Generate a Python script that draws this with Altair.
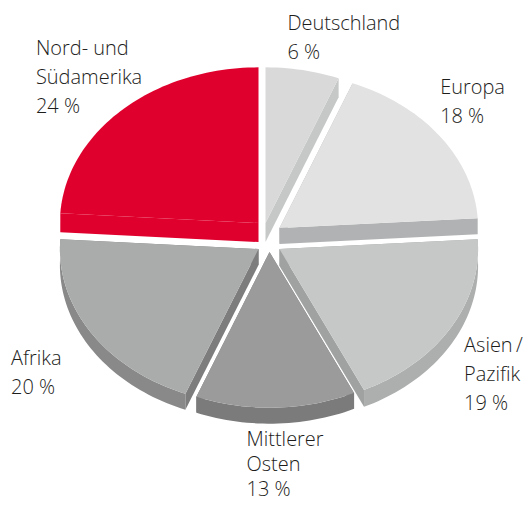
import math
import altair as alt
import pandas as pd

# ---- data
regions = ["Deutschland", "Europa", "Asien/Pazifik", "Mittlerer Osten", "Afrika", "Nord- und Südamerika"]
shares = [6, 18, 19, 13, 20, 24]

# ---- style and exploded-pie geometry
top_colors = ["#d9d9d9", "#e2e2e2", "#c6c8c7", "#9a9b9a", "#aaacab", "#e0002d"]
rim_colors = ["#c6c8c8", "#b1b2b3", "#adaeae", "#7a7b7a", "#888988", "#e0002d"]
cut_colors = ["#c6c8c8", "#b1b2b3", "#a0a2a1", "#7a7b7a", "#7c7d7c", "#e0002d"]
centers_x = [266, 280, 280, 270, 259, 259]
centers_y = [223, 228, 249, 252, 249, 223]
depths = [19, 16, 17, 16, 16, 19]
RX, RY = 199, 156
W, H = 515, 494
X0, Y0 = 8, 8

label_lines = [
    ["Deutschland", "6 %"],
    ["Europa", "18 %"],
    ["Asien\u2009/", "Pazifik", "19 %"],
    ["Mittlerer", "Osten", "13 %"],
    ["Afrika", "20 %"],
    ["Nord- und", "Südamerika", "24 %"],
]
label_x = [288, 441, 465, 247, 11, 36]
label_y = [30, 94, 352, 446, 365, 55]
line_h = [29, 29, 29, 25, 29, 29]


def pt(cx, cy, a):
    r = math.radians(a)
    return cx + RX * math.sin(r), cy - RY * math.cos(r)


rows = []


def add_poly(pid, pts, color):
    for i, (x, y) in enumerate(pts):
        rows.append({"pid": pid, "i": i, "x": x, "y": y, "c": color})


pid = 0
start = 0.0
for k, s in enumerate(shares):
    a1, a2 = start, start + s * 3.6
    start = a2
    cx, cy, d = centers_x[k], centers_y[k], depths[k]
    for a in (a1, a2):
        p = pt(cx, cy, a)
        add_poly(pid, [(cx, cy), p, (p[0], p[1] + d), (cx, cy + d)], cut_colors[k])
        pid += 1
    lo, hi = max(a1, 90 - 3.6), min(a2, 270 + 3.6)
    if hi > lo:
        n = max(2, int((hi - lo) / 1.5))
        arc = [pt(cx, cy, lo + (hi - lo) * j / n) for j in range(n + 1)]
        add_poly(pid, arc + [(x, y + d) for x, y in reversed(arc)], rim_colors[k])
        pid += 1
    n = max(2, int((a2 - a1) / 1.5))
    arc = [pt(cx, cy, a1 + (a2 - a1) * j / n) for j in range(n + 1)]
    add_poly(pid, [(cx, cy)] + arc, top_colors[k])
    pid += 1

df = pd.DataFrame(rows)
xs = alt.X("x:Q", axis=None, scale=alt.Scale(domain=[X0, X0 + W]))
ys = alt.Y("y:Q", axis=None, scale=alt.Scale(domain=[Y0 + H, Y0]))

polys = [
    alt.Chart(g).mark_line(fill=g["c"].iloc[0], strokeWidth=0, interpolate="linear", clip=True)
    .encode(x=xs, y=ys, order="i:Q")
    for _, g in df.groupby("pid", sort=True)
]

text_rows = []
for lines, lx, ly, lh in zip(label_lines, label_x, label_y, line_h):
    for j, t in enumerate(lines):
        text_rows.append({"t": t, "x": lx, "y": ly + j * lh})
texts = alt.Chart(pd.DataFrame(text_rows)).mark_text(
    align="left", baseline="alphabetic", font="Open Sans", fontSize=20, fontWeight=300, color="#1d1d1b"
).encode(x=xs, y=ys, text="t:N")

chart = alt.layer(*polys, texts).properties(width=W, height=H, padding=0).configure_view(stroke=None)
chart.save("out.html", embed_options={"renderer": "svg", "actions": False})
